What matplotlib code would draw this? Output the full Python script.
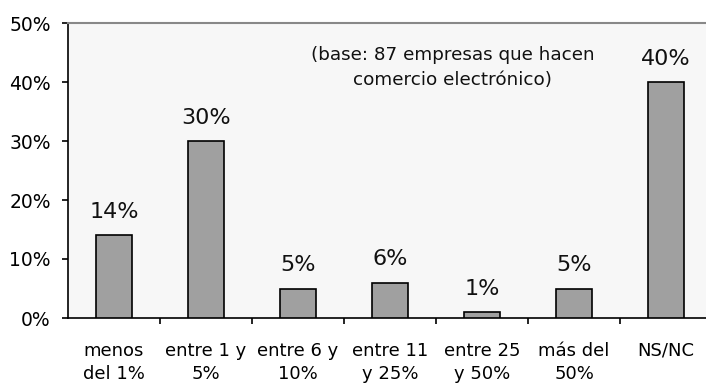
import matplotlib.pyplot as plt
import numpy as np

# porcentaje de ventas por comercio electronico
categorias = ["menos\ndel 1%", "entre 1 y\n5%", "entre 6 y\n10%", "entre 11\ny 25%",
              "entre 25\ny 50%", "más del\n50%", "NS/NC"]
porcentajes = [14, 30, 5, 6, 1, 5, 40]
ticks_y = [0, 10, 20, 30, 40, 50]

plt.rcParams['font.family'] = ['DejaVu Sans']

fig = plt.figure(figsize=(7.06, 3.83), dpi=100)
ax = fig.add_axes([68 / 706, 65 / 383, 644 / 706, 295 / 383])
ax.set_facecolor('#f7f7f7')

x = np.arange(len(categorias))
ax.bar(x, porcentajes, width=0.4, color='#a0a0a0', edgecolor='black', linewidth=1.2, zorder=3)

for xi, v in zip(x, porcentajes):
    ax.text(xi, v + 2.9, "{}%".format(v), ha='center', va='baseline', fontsize=16, color='#111111')

ax.set_xlim(-0.5, len(categorias) - 0.5)
ax.set_ylim(0, 50)
ax.set_yticks(ticks_y)
ax.set_yticklabels(["{}%".format(t) for t in ticks_y], fontsize=13.5)

ax.set_xticks(x)
ax.set_xticklabels(categorias, fontsize=13, linespacing=1.4)
ax.set_xticks(x[:-1] + 0.5, minor=True)
ax.tick_params(axis='x', which='major', length=0, pad=17)
ax.tick_params(axis='x', which='minor', length=4.5, width=1.2, direction='out')
ax.tick_params(axis='y', length=4.5, width=1.2, direction='out', pad=8)

ax.spines['top'].set_color('#888888')
ax.spines['top'].set_linewidth(1.5)
ax.spines['right'].set_visible(False)
ax.spines['left'].set_linewidth(1.2)
ax.spines['bottom'].set_linewidth(1.2)

ax.text(3.68, 42.4, "(base: 87 empresas que hacen\ncomercio electrónico)", ha='center', va='center',
        fontsize=13.2, linespacing=1.5, color='#111111')

plt.savefig('out.png', dpi=100)
